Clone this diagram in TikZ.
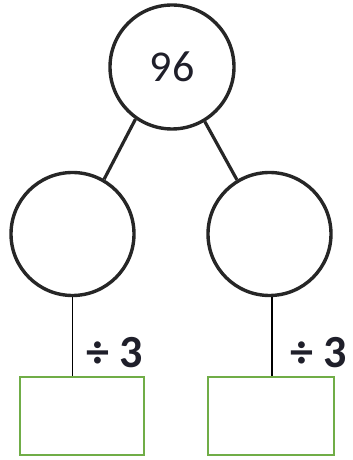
\documentclass[tikz,border=0pt]{standalone}
\usepackage{fontspec}
\setmainfont{Carlito}
\definecolor{boxgreen}{HTML}{70AD47}
\definecolor{txt}{HTML}{1F1F2A}
\begin{document}
\begin{tikzpicture}[x=1pt,y=1pt,
  bubble/.style={circle,draw=black!85,line width=3.4pt,inner sep=0pt,minimum size=123pt},
  answer/.style={draw=boxgreen,line width=2.6pt,minimum width=124pt,minimum height=78pt,inner sep=0pt},
  link/.style={draw=black!85,line width=3.2pt},
  stem/.style={draw=black,line width=1.4pt},
  op/.style={text=txt,font=\bfseries\fontsize{46}{48}\selectfont,inner sep=0pt}]
\useasboundingbox (0,0) rectangle (353,460);
\node[bubble,minimum size=124pt] (top) at (172,393) {\textcolor{txt}{\fontsize{44}{46}\selectfont 96}};
\node[bubble] (l) at (72.5,226) {};
\node[bubble] (r) at (269.5,226) {};
\node[answer] (lb) at (82,44) {};
\node[answer,minimum width=126pt] (rb) at (271,44) {};
\draw[link] (top.235.5) -- (l.60);
\draw[link] (top.301) -- (r.121);
\draw[stem] (l.south) -- (l.south |- lb.north);
\draw[stem] (r.south) ++(2.5,0) coordinate (rs) -- (rs |- rb.north);
\node[op] (dl) at (115,107) {÷ 3};
\node[op] (dr) at (319,107) {÷ 3};
\end{tikzpicture}
\end{document}
